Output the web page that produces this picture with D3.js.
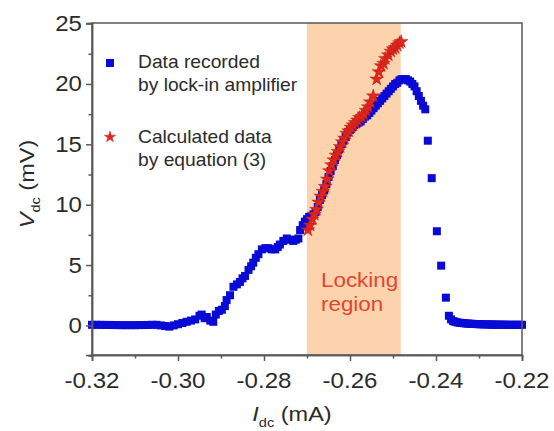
<!DOCTYPE html>
<html><head><meta charset="utf-8">
<script src="https://cdn.jsdelivr.net/npm/d3@7"></script>
<style>
body{margin:0;background:#fff}
text{font-family:"Liberation Sans",Arial,sans-serif}
</style>
</head><body>
<svg id="c" width="554" height="431"></svg>
<script>
// ---- data ----
const blueX = [
 -0.3200,-0.3190,-0.3180,-0.3170,-0.3160,-0.3150,-0.3140,-0.3130,-0.3120,-0.3110,
 -0.3100,-0.3090,-0.3080,-0.3070,-0.3060,-0.3050,-0.3040,-0.3030,-0.3020,-0.3010,
 -0.3000,-0.2990,-0.2980,-0.2970,-0.2960,-0.2950,-0.2945,-0.2938,-0.2933,-0.2925,
 -0.2918,-0.2912,-0.2905,-0.2898,-0.2891,-0.2887,-0.2879,-0.2871,-0.2863,-0.2856,
 -0.2850,-0.2844,-0.2836,-0.2830,-0.2825,-0.2819,-0.2813,-0.2805,-0.2797,-0.2790,
 -0.2782,-0.2774,-0.2768,-0.2763,-0.2755,-0.2747,-0.2740,-0.2732,-0.2726,-0.2720,
 -0.2716,-0.2710,-0.2705,-0.2700,-0.2695,-0.2690,-0.2685,-0.2680,-0.2675,-0.2670,
 -0.2665,-0.2660,-0.2655,-0.2650,-0.2645,-0.2640,-0.2635,-0.2630,-0.2625,-0.2620,
 -0.2615,-0.2610,-0.2605,-0.2600,-0.2595,-0.2590,-0.2585,-0.2580,-0.2575,-0.2570,
 -0.2565,-0.2560,-0.2555,-0.2550,-0.2545,-0.2540,-0.2535,-0.2530,-0.2525,-0.2520,
 -0.2515,-0.2510,-0.2505,-0.2500,-0.2495,-0.2490,-0.2485,-0.2480,-0.2475,-0.2470,
 -0.2465,-0.2460,-0.2455,-0.2450,-0.2445,-0.2440,-0.2435,-0.2430,-0.2425,
 -0.2419,-0.2410,-0.2398,-0.2388,-0.2377,-0.2370,-0.2365,-0.2360,-0.2355,-0.2350,
 -0.2345,-0.2340,-0.2335,-0.2330,-0.2325,-0.2320,-0.2315,-0.2310,-0.2305,-0.2300,
 -0.2295,-0.2290,-0.2285,-0.2280,-0.2275,-0.2270,-0.2265,-0.2260,-0.2255,-0.2250,
 -0.2245,-0.2240,-0.2235,-0.2230,-0.2225,-0.2220,-0.2215,-0.2210,-0.2205,-0.2200
];
const blueY = [
 0.05,0.05,0.05,0.04,0.04,0.03,0.03,0.02,0.02,0.02,
 0.02,0.03,0.03,0.04,0.05,0.05,0.0,-0.05,-0.1,0.0,
 0.1,0.2,0.3,0.4,0.5,0.8,0.9,0.6,0.7,0.4,
 0.3,0.9,1.2,1.3,1.6,2.1,2.5,3.2,3.4,3.6,
 3.9,4.1,4.6,4.9,5.2,5.6,5.9,6.3,6.4,6.4,
 6.3,6.3,6.5,6.7,7.0,7.2,7.1,7.0,7.1,7.2,
 7.9,8.3,8.6,8.8,9.0,9.0,9.2,9.4,9.8,10.4,
 10.8,11.2,11.7,12.3,12.8,13.2,13.7,14.1,14.6,15.0,
 15.3,15.6,16.0,16.2,16.4,16.6,16.7,16.8,16.9,17.1,
 17.3,17.4,17.6,17.8,18.0,18.2,18.4,18.6,18.8,19.0,
 19.2,19.4,19.6,19.8,20.0,20.1,20.3,20.4,20.4,20.4,
 20.3,20.2,20.0,19.8,19.4,19.0,18.6,18.2,17.9,
 15.3,12.2,7.8,4.95,2.3,0.8,0.5,0.35,0.3,0.25,
 0.22,0.2,0.18,0.16,0.15,0.14,0.13,0.12,0.11,0.1,
 0.1,0.09,0.09,0.08,0.08,0.07,0.07,0.07,0.06,0.06,
 0.06,0.06,0.05,0.05,0.05,0.05,0.05,0.05,0.05,0.05
];
const redX = [
 -0.2698,-0.2693,-0.2688,-0.2683,-0.2678,-0.2673,-0.2668,-0.2663,-0.2658,-0.2653,
 -0.2648,-0.2643,-0.2638,-0.2633,-0.2628,-0.2623,-0.2618,-0.2613,-0.2608,-0.2603,
 -0.2598,-0.2593,-0.2588,-0.2583,-0.2578,-0.2573,-0.2568,-0.2563,-0.2558,-0.2553,
 -0.2546,-0.2538,-0.2533,-0.2528,-0.2522,-0.2518,-0.2511,-0.2505,-0.2500,-0.2495,
 -0.2490,-0.2485,-0.2481
];
const redY = [
 7.9,8.3,8.8,9.2,9.6,10.2,10.7,11.1,11.5,12.1,
 12.8,13.3,13.7,14.1,14.4,14.8,15.2,15.5,15.9,16.1,
 16.4,16.6,16.8,17.0,17.2,17.3,17.5,17.8,18.1,18.5,
 19.0,20.4,21.0,21.5,21.7,22.1,22.4,22.7,22.9,23.0,
 23.2,23.4,23.5
];
const xTicks = [-0.32,-0.30,-0.28,-0.26,-0.24,-0.22];
const xMinor = [-0.31,-0.29,-0.27,-0.25,-0.23];
const yTicks = [0,5,10,15,20,25];
const yMinor = [-2.5,2.5,7.5,12.5,17.5,22.5];
const lockRegion = [-0.2700,-0.2482];
const legendLabels = [["Data recorded","by lock-in amplifier"],["Calculated data","by equation (3)"]];
const regionLabel = ["Locking","region"];

// ---- layout ----
const L=92,R=522,T=23,B=355, SX=1.12;
const svg=d3.select("#c");
const x=d3.scaleLinear().domain([-0.32,-0.22]).range([L,R]);
const y=d3.scaleLinear().domain([-2.45,25.05]).range([B,T]);
const axisCol="#5a5a5a", txtCol="#2b2b2b";

// locking region
svg.append("rect").attr("x",x(lockRegion[0])).attr("y",T)
  .attr("width",x(lockRegion[1])-x(lockRegion[0])).attr("height",B-T)
  .attr("fill","#fcd3ad");

// region label
regionLabel.forEach((t,i)=>{
  svg.append("text").attr("transform",`translate(${x(lockRegion[0])+14},${287+i*24}) scale(${SX},1)`)
    .attr("font-size",20).attr("fill","#e2452f").text(t);
});

// blue squares
const sq=8;
svg.append("g").selectAll("rect").data(blueX.map((v,i)=>[v,blueY[i]])).join("rect")
  .attr("x",d=>x(d[0])-sq/2).attr("y",d=>y(d[1])-sq/2).attr("width",sq).attr("height",sq)
  .attr("fill","#0a0ad6");

// red stars
const star=d3.symbol().type(d3.symbolStar).size(58);
svg.append("g").selectAll("path").data(redX.map((v,i)=>[v,redY[i]])).join("path")
  .attr("d",star).attr("transform",d=>`translate(${x(d[0])},${y(d[1])})`)
  .attr("fill","#e3261c").attr("stroke","#b01a14").attr("stroke-width",0.4);

// frame
svg.append("rect").attr("x",L).attr("y",T).attr("width",R-L).attr("height",B-T)
  .attr("fill","none").attr("stroke",axisCol).attr("stroke-width",1.5);

// axes
const gx=svg.append("g").attr("transform",`translate(0,${B})`)
  .call(d3.axisBottom(x).tickValues(xTicks).tickSize(6).tickFormat(""));
const gxm=svg.append("g").attr("transform",`translate(0,${B})`)
  .call(d3.axisBottom(x).tickValues(xMinor).tickSize(3.5).tickFormat(""));
const gy=svg.append("g").attr("transform",`translate(${L},0)`)
  .call(d3.axisLeft(y).tickValues(yTicks).tickSize(6).tickFormat(""));
const gym=svg.append("g").attr("transform",`translate(${L},0)`)
  .call(d3.axisLeft(y).tickValues(yMinor).tickSize(3.5).tickFormat(""));
[gx,gxm,gy,gym].forEach(g=>{
  g.select(".domain").attr("stroke",axisCol).attr("stroke-width",1.5);
  g.selectAll(".tick line").attr("stroke",axisCol).attr("stroke-width",1.5);
});

// tick labels
xTicks.forEach(v=>{
  svg.append("text").attr("transform",`translate(${x(v)},${388}) scale(${SX},1)`)
    .attr("text-anchor","middle").attr("font-size",21.5).attr("fill",txtCol).text(v.toFixed(2));
});
yTicks.forEach(v=>{
  svg.append("text").attr("transform",`translate(${L-10},${y(v)+7.5}) scale(${SX},1)`)
    .attr("text-anchor","end").attr("font-size",21.5).attr("fill",txtCol).text(String(v));
});

// axis titles
const xt=svg.append("text").attr("transform",`translate(${292},${421}) scale(${SX},1)`)
  .attr("text-anchor","middle").attr("font-size",21).attr("fill",txtCol);
xt.append("tspan").attr("font-style","italic").text("I");
xt.append("tspan").attr("font-size",13).attr("dy",6).text("dc");
xt.append("tspan").attr("dy",-6).text(" (mA)");

const yt=svg.append("text").attr("transform",`translate(${34},${184}) rotate(-90) scale(${SX},1)`)
  .attr("text-anchor","middle").attr("font-size",21).attr("fill",txtCol);
yt.append("tspan").attr("font-style","italic").text("V");
yt.append("tspan").attr("font-size",13).attr("dy",6).text("dc");
yt.append("tspan").attr("dy",-6).text(" (mV)");

// legend
const lg=svg.append("g");
lg.append("rect").attr("x",110-4).attr("y",63-4).attr("width",8).attr("height",8).attr("fill","#0a0ad6");
lg.append("path").attr("d",d3.symbol().type(d3.symbolStar).size(40)).attr("transform","translate(110,137)")
  .attr("fill","#e3261c").attr("stroke","#b01a14").attr("stroke-width",0.4);
const lgY=[[68,91],[143,166]];
legendLabels.forEach((lines,i)=>{
  lines.forEach((t,j)=>{
    lg.append("text").attr("transform",`translate(138,${lgY[i][j]}) scale(1.1,1)`)
      .attr("font-size",17.5).attr("fill",txtCol).text(t);
  });
});
</script>
</body></html>
